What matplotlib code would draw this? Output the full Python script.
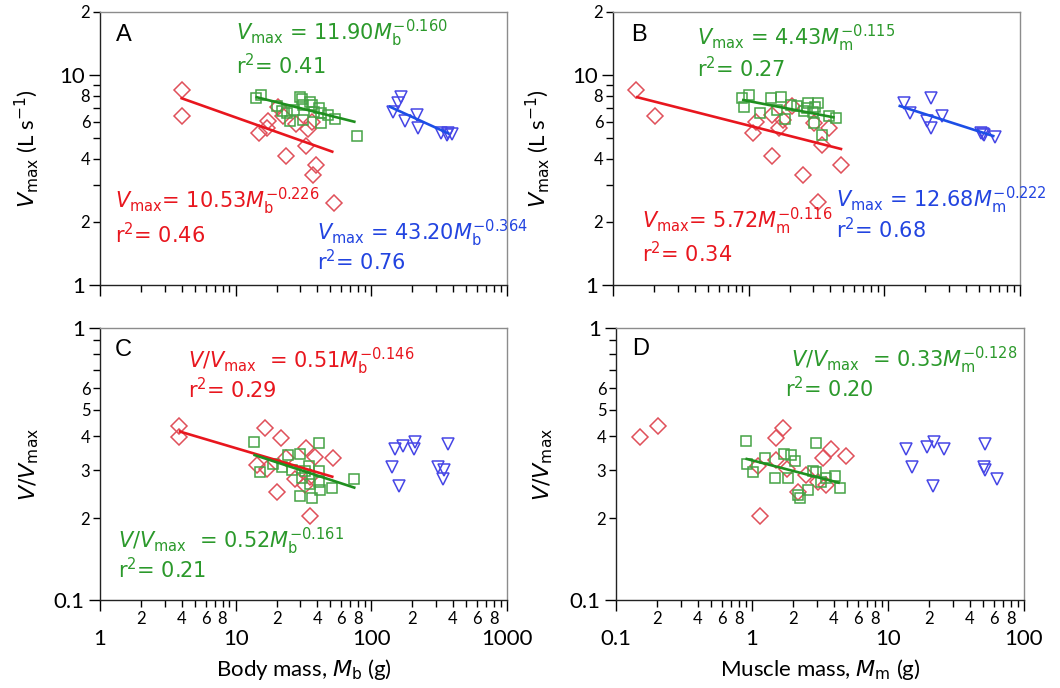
import matplotlib
matplotlib.use("Agg")
import matplotlib.pyplot as plt

plt.rcParams['font.family'] = 'Lato'
plt.rcParams['mathtext.fontset'] = 'dejavusans'

# --- panel A: Vmax vs body mass ---
a_red_x = [4.0, 4.0, 14.8, 17.2, 17.1, 20.5, 22.4, 27.9, 34.2, 36.8, 32.9, 23.6, 39.2, 37.1, 53.5]
a_red_y = [8.50, 6.41, 5.28, 6.07, 5.58, 7.05, 6.41, 5.88, 5.56, 6.00, 4.61, 4.12, 3.73, 3.34, 2.47]
a_grn_x = [14.2, 15.4, 20.1, 21.9, 23.8, 25.3, 27.1, 29.6, 30.8, 31.3, 31.3, 35.4, 36.5, 37.6,
           40.9, 42.8, 42.8, 47.7, 53.7, 78.4]
a_grn_y = [7.76, 8.05, 7.13, 6.77, 6.58, 6.07, 6.82, 7.90, 7.70, 7.21, 6.11, 7.47, 7.21, 6.70,
           6.95, 6.62, 5.90, 6.46, 6.16, 5.15]
a_blu_x = [144, 157, 166, 176, 217, 220, 328, 361, 368, 393]
a_blu_y = [6.70, 7.39, 7.85, 6.07, 6.46, 5.58, 5.28, 5.19, 5.32, 5.24]

# --- panel B: Vmax vs muscle mass ---
b_red_x = [0.148, 0.204, 1.08, 1.13, 1.48, 1.68, 1.78, 2.10, 1.48, 3.04, 3.49, 3.93, 2.50, 4.80, 3.25]
b_red_y = [8.50, 6.41, 5.28, 5.96, 6.46, 5.62, 6.11, 7.13, 4.12, 5.90, 4.65, 5.58, 3.34, 3.72, 2.48]
b_grn_x = [0.90, 1.00, 0.92, 1.22, 1.47, 1.74, 1.63, 1.85, 2.04, 2.29, 2.57, 2.72, 2.96, 3.27,
           3.08, 3.93, 4.42, 3.45, 3.04, 2.69]
b_grn_y = [7.76, 8.05, 7.05, 6.58, 7.76, 7.85, 6.82, 6.16, 7.22, 7.13, 6.77, 7.34, 6.70, 7.39,
           7.07, 6.40, 6.23, 5.19, 5.90, 6.95]
b_blu_x = [14.0, 15.4, 22.2, 20.8, 22.2, 26.7, 53, 54, 52, 65]
b_blu_y = [7.34, 6.58, 7.76, 6.08, 5.60, 6.40, 5.26, 5.19, 5.32, 5.09]

# --- panel C: V/Vmax vs body mass ---
c_red_x = [3.85, 3.85, 16.5, 21.7, 33.0, 38.6, 52.0, 14.3, 17.0, 23.5, 27.5, 32.6, 35.4, 20.1, 35.1]
c_red_y = [0.438, 0.398, 0.430, 0.395, 0.361, 0.336, 0.332, 0.314, 0.303, 0.332, 0.279, 0.265,
           0.284, 0.250, 0.203]
c_grn_x = [13.7, 15.1, 18.9, 24.4, 25.9, 29.8, 34.9, 40.8, 41.3, 30.6, 35.3, 41.8, 29.8, 36.3,
           51.5, 74.8, 32.6, 40.8, 21.9]
c_grn_y = [0.382, 0.295, 0.317, 0.341, 0.300, 0.343, 0.312, 0.379, 0.298, 0.280, 0.268, 0.254,
           0.242, 0.238, 0.259, 0.278, 0.297, 0.272, 0.309]
c_blu_x = [141, 149, 170, 209, 207, 161, 369, 308, 344, 339]
c_blu_y = [0.307, 0.359, 0.368, 0.382, 0.359, 0.263, 0.374, 0.308, 0.300, 0.278]

# --- panel D: V/Vmax vs muscle mass ---
d_red_x = [0.150, 0.205, 1.50, 1.68, 1.10, 1.50, 1.81, 2.50, 2.17, 3.32, 3.83, 4.88, 3.05, 3.51, 1.14]
d_red_y = [0.398, 0.437, 0.395, 0.430, 0.312, 0.327, 0.303, 0.288, 0.250, 0.334, 0.359, 0.338,
           0.272, 0.265, 0.204]
d_grn_x = [0.903, 0.918, 1.02, 1.25, 1.48, 1.73, 1.94, 2.08, 1.85, 2.17, 2.26, 2.60, 2.80, 2.96,
           2.96, 3.22, 4.05, 4.42, 3.51]
d_grn_y = [0.384, 0.316, 0.295, 0.334, 0.282, 0.343, 0.341, 0.323, 0.282, 0.243, 0.238, 0.254,
           0.298, 0.295, 0.379, 0.272, 0.286, 0.259, 0.282]
d_blu_x = [13.5, 15.0, 19.5, 21.7, 25.9, 21.5, 51.6, 51.0, 51.5, 62.8]
d_blu_y = [0.359, 0.307, 0.366, 0.380, 0.359, 0.263, 0.374, 0.307, 0.300, 0.278]

# regression lines: end points (x0, x1), (y0, y1)
fit_a = {'red': ([4.0, 51.5], [7.76, 4.32]),
         'grn': ([14.3, 74.9], [7.85, 6.00]),
         'blu': ([137, 369], [7.07, 5.28])}
fit_b = {'red': ([0.151, 4.79], [7.85, 4.45]),
         'grn': ([0.913, 4.21], [7.61, 6.30]),
         'blu': ([13.0, 63.5], [7.13, 5.13])}
fit_c = {'red': ([3.89, 51.5], [0.416, 0.284]),
         'grn': ([13.8, 74.8], [0.341, 0.259])}
fit_d = {'grn': ([0.915, 4.33], [0.330, 0.270])}

RED_PT, RED_LN = '#e0505a', '#e8161e'
GRN_PT, GRN_LN = '#45a345', '#1f8f1f'
BLU_PT, BLU_LN = '#4646e6', '#1c4ee6'
RED_TX, GRN_TX, BLU_TX = '#e8161e', '#2b992b', '#2244e0'
LINE_COL = {'red': RED_LN, 'grn': GRN_LN, 'blu': BLU_LN}

W, H = 1060, 688
fig = plt.figure(figsize=(W / 100, H / 100), dpi=100)


def px_axes(left, top, right, bottom):
    return fig.add_axes([left / W, 1 - bottom / H, (right - left) / W, (bottom - top) / H])


axA = px_axes(100, 12, 507, 285)
axB = px_axes(613, 12, 1020, 285)
axC = px_axes(100, 328, 507, 600)
axD = px_axes(616, 328, 1024, 600)


def decade_minors(lo, hi):
    ticks, labels = [], []
    d = lo
    while d < hi * 0.99:
        for k in range(2, 10):
            ticks.append(k * d)
            labels.append(str(k) if k % 2 == 0 else '')
        d *= 10
    return ticks, labels


def style_axes(ax, xlim, ylim, xmajor, xmajor_lbl, ymajor, ymajor_lbl, yminor, yminor_lbl, xlabels):
    ax.set_xscale('log')
    ax.set_yscale('log')
    ax.set_xlim(xlim)
    ax.set_ylim(ylim)
    for s in ('top', 'right'):
        ax.spines[s].set_color('#8c8c8c')
    for s in ('left', 'bottom'):
        ax.spines[s].set_color('#222222')
    for s in ax.spines.values():
        s.set_linewidth(1.0)

    xmin_t, xmin_l = decade_minors(xlim[0], xlim[1])
    if xlabels:
        ax.set_xticks(xmajor, labels=xmajor_lbl)
        ax.set_xticks(xmin_t, labels=xmin_l, minor=True)
    else:
        ax.set_xticks(xmajor, labels=[''] * len(xmajor))
        ax.set_xticks(xmin_t, labels=[''] * len(xmin_t), minor=True)
    ax.set_yticks(ymajor, labels=ymajor_lbl)
    ax.set_yticks(yminor, labels=yminor_lbl, minor=True)

    ax.tick_params(axis='x', which='major', length=8, width=1, pad=13, labelsize=16)
    ax.tick_params(axis='x', which='minor', length=5, width=1, pad=3, labelsize=12)
    ax.tick_params(axis='y', which='major', length=8, width=1, pad=3, labelsize=16)
    ax.tick_params(axis='y', which='minor', length=5, width=1, pad=2, labelsize=12)


vmax_minor = [2, 3, 4, 5, 6, 7, 8, 9, 20]
vmax_minor_lbl = ['2', '', '4', '', '6', '', '8', '', '2']
rel_minor = [0.2, 0.3, 0.4, 0.5, 0.6, 0.7, 0.8, 0.9]
rel_minor_lbl = ['2', '3', '4', '5', '6', '', '', '']

style_axes(axA, (1, 1000), (1, 20), [1, 10, 100, 1000], ['1', '10', '100', '1000'],
           [1, 10], ['1', '10'], vmax_minor, vmax_minor_lbl, False)
style_axes(axB, (0.1, 100), (1, 20), [0.1, 1, 10, 100], ['0.1', '1', '10', '100'],
           [1, 10], ['1', '10'], vmax_minor, vmax_minor_lbl, False)
style_axes(axC, (1, 1000), (0.1, 1), [1, 10, 100, 1000], ['1', '10', '100', '1000'],
           [0.1, 1], ['0.1', '1'], rel_minor, rel_minor_lbl, True)
style_axes(axD, (0.1, 100), (0.1, 1), [0.1, 1, 10, 100], ['0.1', '1', '10', '100'],
           [0.1, 1], ['0.1', '1'], rel_minor, rel_minor_lbl, True)


def scatter_groups(ax, red, grn, blu, fits):
    ax.plot(red[0], red[1], 'D', mfc='none', mec=RED_PT, ms=8, mew=1.1, zorder=3)
    ax.plot(grn[0], grn[1], 's', mfc='none', mec=GRN_PT, ms=7.5, mew=1.1, zorder=3)
    ax.plot(blu[0], blu[1], 'v', mfc='none', mec=BLU_PT, ms=8.5, mew=1.1, zorder=3)
    for key, (fx, fy) in fits.items():
        ax.plot(fx, fy, color=LINE_COL[key], lw=1.9, zorder=4)


scatter_groups(axA, (a_red_x, a_red_y), (a_grn_x, a_grn_y), (a_blu_x, a_blu_y), fit_a)
scatter_groups(axB, (b_red_x, b_red_y), (b_grn_x, b_grn_y), (b_blu_x, b_blu_y), fit_b)
scatter_groups(axC, (c_red_x, c_red_y), (c_grn_x, c_grn_y), (c_blu_x, c_blu_y), fit_c)
scatter_groups(axD, (d_red_x, d_red_y), (d_grn_x, d_grn_y), (d_blu_x, d_blu_y), fit_d)

EQ_FONT = 'DejaVu Sans'

# panel letters
for ax, letter, pos in [(axA, 'A', (0.038, 0.915)), (axB, 'B', (0.045, 0.915)),
                        (axC, 'C', (0.037, 0.918)), (axD, 'D', (0.039, 0.924))]:
    ax.text(*pos, letter, transform=ax.transAxes, fontsize=17, family='Liberation Sans',
            va='center', ha='left')

EQ_FS = 15


def eq(ax, x, y, s, color):
    ax.text(x, y, s, transform=ax.transAxes, fontsize=EQ_FS, family=EQ_FONT, color=color,
            va='baseline', ha='left')


VM = r'$V_{\mathrm{max}}$'
RV = r'$V/V_{\mathrm{max}}$'

eq(axA, 0.335, 0.897, VM + r' = 11.90$M_{\mathrm{b}}^{-0.160}$', GRN_TX)
eq(axA, 0.335, 0.773, r'r$^{2}$= 0.41', GRN_TX)
eq(axA, 0.037, 0.280, VM + r'= 10.53$M_{\mathrm{b}}^{-0.226}$', RED_TX)
eq(axA, 0.037, 0.152, r'r$^{2}$= 0.46', RED_TX)
eq(axA, 0.533, 0.163, VM + r' = 43.20$M_{\mathrm{b}}^{-0.364}$', BLU_TX)
eq(axA, 0.533, 0.053, r'r$^{2}$= 0.76', BLU_TX)

eq(axB, 0.206, 0.877, VM + r' = 4.43$M_{\mathrm{m}}^{-0.115}$', GRN_TX)
eq(axB, 0.206, 0.760, r'r$^{2}$= 0.27', GRN_TX)
eq(axB, 0.071, 0.207, VM + r'= 5.72$M_{\mathrm{m}}^{-0.116}$', RED_TX)
eq(axB, 0.071, 0.082, r'r$^{2}$= 0.34', RED_TX)
eq(axB, 0.548, 0.284, VM + r' = 12.68$M_{\mathrm{m}}^{-0.222}$', BLU_TX)
eq(axB, 0.548, 0.170, r'r$^{2}$= 0.68', BLU_TX)

eq(axC, 0.216, 0.851, RV + r'  = 0.51$M_{\mathrm{b}}^{-0.146}$', RED_TX)
eq(axC, 0.216, 0.741, r'r$^{2}$= 0.29', RED_TX)
eq(axC, 0.044, 0.189, RV + r'  = 0.52$M_{\mathrm{b}}^{-0.161}$', GRN_TX)
eq(axC, 0.044, 0.079, r'r$^{2}$= 0.21', GRN_TX)

eq(axD, 0.429, 0.855, RV + r'  = 0.33$M_{\mathrm{m}}^{-0.128}$', GRN_TX)
eq(axD, 0.414, 0.744, r'r$^{2}$= 0.20', GRN_TX)

# axis labels
for ax in (axA, axB):
    ax.set_ylabel(r'$V_{\mathrm{max}}$ (L s$^{-1}$)', fontsize=16)
for ax in (axC, axD):
    ax.set_ylabel(r'$V/V_{\mathrm{max}}$', fontsize=16)
axA.yaxis.set_label_coords(-0.145, 0.5)
axB.yaxis.set_label_coords(-0.150, 0.5)
axC.yaxis.set_label_coords(-0.145, 0.5)
axD.yaxis.set_label_coords(-0.150, 0.5)

axC.set_xlabel(r'Body mass, $M_{\mathrm{b}}$ (g)', fontsize=16)
axD.set_xlabel(r'Muscle mass, $M_{\mathrm{m}}$ (g)', fontsize=16)
axC.xaxis.set_label_coords(0.5, -0.21)
axD.xaxis.set_label_coords(0.5, -0.21)

fig.savefig('out.png', dpi=100)
